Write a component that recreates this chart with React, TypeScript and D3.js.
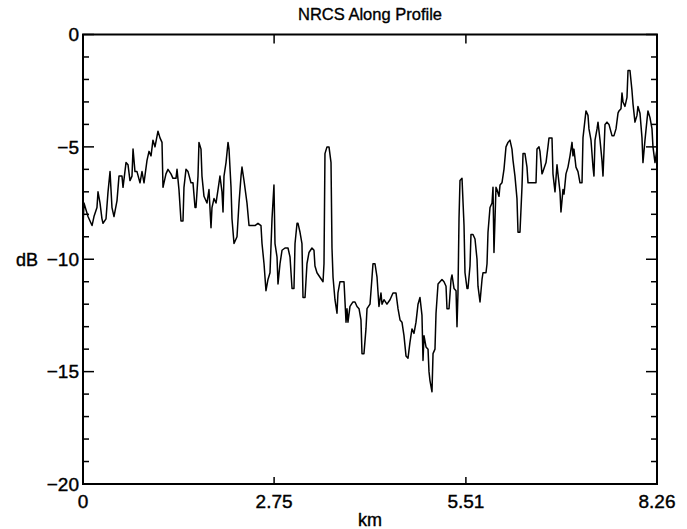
import React, { useRef, useEffect } from "react";
import * as d3 from "d3";

// distance along profile (km) and NRCS (dB)
const distanceKm = [
  0.000, 0.014, 0.043, 0.072, 0.130, 0.158, 0.201, 0.216, 0.245, 0.273, 0.288, 0.331, 0.360, 0.389, 0.417, 0.446,
  0.489, 0.518, 0.561, 0.576, 0.619, 0.648, 0.676, 0.705, 0.720, 0.748, 0.777, 0.820, 0.849, 0.878, 0.921, 0.950,
  0.979, 1.007, 1.036, 1.079, 1.108, 1.137, 1.151, 1.194, 1.223, 1.266, 1.295, 1.338, 1.353, 1.381, 1.410, 1.439,
  1.453, 1.482, 1.511, 1.554, 1.583, 1.612, 1.626, 1.655, 1.669, 1.698, 1.712, 1.741, 1.784, 1.813, 1.842, 1.856,
  1.885, 1.914, 1.943, 1.971, 2.000, 2.015, 2.029, 2.058, 2.087, 2.101, 2.130, 2.144, 2.173, 2.202, 2.216, 2.245,
  2.274, 2.288, 2.317, 2.360, 2.389, 2.432, 2.475, 2.518, 2.561, 2.576, 2.605, 2.633, 2.662, 2.691, 2.720, 2.748,
  2.763, 2.792, 2.806, 2.835, 2.864, 2.907, 2.950, 2.979, 3.008, 3.036, 3.051, 3.080, 3.094, 3.123, 3.151, 3.166,
  3.195, 3.223, 3.252, 3.295, 3.324, 3.338, 3.367, 3.410, 3.454, 3.468, 3.482, 3.511, 3.540, 3.569, 3.583, 3.598,
  3.626, 3.655, 3.669, 3.698, 3.727, 3.756, 3.785, 3.799, 3.813, 3.842, 3.885, 3.914, 3.943, 3.972, 4.000, 4.015,
  4.043, 4.072, 4.087, 4.130, 4.159, 4.173, 4.202, 4.231, 4.259, 4.288, 4.303, 4.331, 4.374, 4.418, 4.461, 4.504,
  4.533, 4.562, 4.590, 4.619, 4.648, 4.677, 4.705, 4.734, 4.763, 4.792, 4.821, 4.849, 4.878, 4.893, 4.907, 4.936,
  4.965, 4.979, 4.993, 5.022, 5.037, 5.065, 5.080, 5.109, 5.137, 5.166, 5.195, 5.224, 5.238, 5.267, 5.296, 5.310,
  5.339, 5.368, 5.382, 5.396, 5.411, 5.425, 5.454, 5.483, 5.497, 5.526, 5.540, 5.569, 5.583, 5.612, 5.641, 5.670,
  5.684, 5.713, 5.742, 5.756, 5.799, 5.814, 5.828, 5.857, 5.886, 5.900, 5.914, 5.943, 5.957, 5.986, 6.001, 6.029,
  6.058, 6.087, 6.116, 6.144, 6.173, 6.188, 6.216, 6.245, 6.260, 6.288, 6.317, 6.332, 6.360, 6.389, 6.404, 6.447,
  6.476, 6.519, 6.533, 6.562, 6.576, 6.605, 6.619, 6.663, 6.691, 6.706, 6.749, 6.763, 6.792, 6.821, 6.835, 6.864,
  6.878, 6.907, 6.922, 6.950, 6.979, 7.008, 7.037, 7.051, 7.065, 7.094, 7.123, 7.152, 7.181, 7.195, 7.238, 7.267,
  7.281, 7.310, 7.339, 7.353, 7.368, 7.397, 7.411, 7.440, 7.468, 7.483, 7.512, 7.540, 7.569, 7.612, 7.641, 7.670,
  7.699, 7.713, 7.742, 7.756, 7.771, 7.799, 7.828, 7.843, 7.871, 7.900, 7.915, 7.943, 7.972, 7.986, 8.015, 8.044,
  8.058, 8.087, 8.116, 8.130, 8.159, 8.188, 8.202, 8.231, 8.260,
];

const nrcsDb = [
  -8.6, -7.5, -7.8, -8.1, -8.5, -8.1, -7.7, -7.0, -7.5, -8.2, -8.4, -8.2, -7.0, -6.1, -7.7, -8.1,
  -7.4, -6.3, -6.3, -6.8, -5.7, -5.8, -6.5, -6.3, -5.1, -6.1, -6.1, -6.6, -6.1, -6.6, -5.6, -5.2,
  -5.4, -4.7, -5.0, -4.3, -4.6, -4.8, -6.8, -6.2, -6.0, -6.2, -6.4, -6.4, -6.0, -6.9, -8.3, -8.3,
  -6.8, -6.0, -6.1, -6.6, -6.6, -7.7, -7.7, -6.3, -4.8, -5.1, -6.3, -7.2, -7.5, -6.9, -8.6, -7.7,
  -7.3, -7.5, -6.9, -6.3, -7.0, -7.9, -6.3, -5.7, -4.8, -5.1, -6.8, -8.2, -9.3, -9.1, -9.0, -7.5,
  -6.3, -5.9, -6.5, -7.5, -8.5, -8.5, -8.5, -8.4, -8.5, -9.3, -10.2, -11.4, -10.9, -10.6, -8.2, -6.7,
  -9.3, -9.9, -11.1, -10.2, -9.6, -9.5, -9.5, -9.9, -11.3, -11.3, -9.3, -8.4, -8.4, -8.8, -9.3, -11.7,
  -11.7, -10.2, -9.7, -9.5, -9.6, -10.3, -10.6, -10.8, -11.0, -10.2, -5.3, -5.0, -5.0, -5.7, -9.5, -10.8,
  -11.8, -12.4, -11.5, -11.0, -11.0, -11.0, -12.8, -12.2, -12.8, -12.1, -11.9, -11.9, -12.1, -12.2, -12.7, -14.2,
  -14.2, -13.1, -12.2, -12.0, -10.8, -10.2, -10.2, -10.8, -12.1, -11.5, -12.0, -11.8, -12.0, -11.8, -11.5, -11.5,
  -12.2, -12.7, -12.8, -13.4, -14.3, -14.4, -13.7, -13.1, -13.3, -12.8, -12.0, -11.7, -12.5, -14.5, -13.4, -13.9,
  -14.0, -15.0, -15.4, -15.9, -14.2, -14.0, -12.4, -11.1, -11.0, -10.9, -11.0, -11.2, -12.2, -12.2, -10.9, -10.7,
  -11.3, -11.4, -13.0, -11.5, -8.2, -6.5, -6.4, -8.5, -10.6, -11.3, -11.3, -10.3, -8.9, -8.9, -9.1, -10.0,
  -11.2, -11.9, -10.9, -10.6, -10.6, -10.2, -8.8, -7.7, -7.5, -6.8, -9.7, -6.8, -6.9, -7.2, -6.7, -6.6,
  -6.0, -5.0, -4.8, -4.7, -5.1, -5.6, -6.3, -7.3, -8.8, -8.8, -6.8, -5.3, -5.3, -5.9, -6.6, -6.6,
  -6.6, -6.6, -5.1, -5.0, -5.2, -6.2, -6.1, -5.7, -5.0, -4.6, -4.6, -6.2, -7.0, -5.8, -6.2, -7.0,
  -7.9, -6.9, -7.1, -6.2, -5.9, -5.4, -4.8, -5.4, -5.1, -5.9, -6.1, -6.6, -6.6, -4.6, -3.4, -3.6,
  -4.2, -4.7, -5.9, -6.3, -4.7, -4.2, -3.9, -4.7, -5.6, -6.3, -4.0, -3.9, -4.0, -4.5, -4.5, -4.2,
  -3.5, -3.4, -3.3, -2.6, -3.0, -3.2, -2.8, -1.6, -1.6, -2.5, -3.1, -3.9, -3.6, -3.2, -3.5, -4.6,
  -5.7, -4.7, -3.8, -3.4, -3.7, -4.2, -5.0, -5.7, -5.1,
];

const xTickValues = [0, 2.75, 5.51, 8.26];
const xTickLabels = ["0", "2.75", "5.51", "8.26"];
const yMajorTicks = [0, -5, -10, -15, -20];
const yTickLabels = ["0", "\u22125", "\u221210", "\u221215", "\u221220"];

const title = "NRCS Along Profile";
const xLabel = "km";
const yLabel = "dB";

const FONT = "'Liberation Sans', Arial, sans-serif";

const App = () => {
  const svgRef = useRef<SVGSVGElement>(null);

  useEffect(() => {
    const width = 687;
    const height = 529;
    const left = 83, right = 657, top = 34.5, bottom = 484;

    const svg = d3.select(svgRef.current)
      .attr("width", width)
      .attr("height", height);
    svg.selectAll("*").remove();

    const xScale = d3.scaleLinear().domain([0, 8.26]).range([left, right]);
    const yScale = d3.scaleLinear().domain([-20, 0]).range([bottom, top]);

    // title
    svg.append("text")
      .attr("x", (left + right) / 2)
      .attr("y", 20)
      .attr("text-anchor", "middle")
      .attr("font-family", FONT)
      .attr("font-size", 16.5)
      .attr("stroke", "#000")
      .attr("stroke-width", 0.35)
      .text(title);

    // minor y ticks every dB, on both sides, pointing in
    const minorY = d3.range(-19, 0).filter(v => v % 5 !== 0);
    const tickGroup = svg.append("g").attr("stroke", "#000").attr("stroke-width", 1.5);
    minorY.forEach(v => {
      tickGroup.append("line").attr("x1", left).attr("x2", left + 6).attr("y1", yScale(v)).attr("y2", yScale(v));
      tickGroup.append("line").attr("x1", right).attr("x2", right - 6).attr("y1", yScale(v)).attr("y2", yScale(v));
    });
    yMajorTicks.forEach(v => {
      tickGroup.append("line").attr("x1", left).attr("x2", left + 11).attr("y1", yScale(v)).attr("y2", yScale(v));
      tickGroup.append("line").attr("x1", right).attr("x2", right - 11).attr("y1", yScale(v)).attr("y2", yScale(v));
    });
    xTickValues.forEach(v => {
      tickGroup.append("line").attr("x1", xScale(v)).attr("x2", xScale(v)).attr("y1", bottom).attr("y2", bottom - 7);
      tickGroup.append("line").attr("x1", xScale(v)).attr("x2", xScale(v)).attr("y1", top).attr("y2", top + 9);
    });

    // data line
    const line = d3.line<number>()
      .x((d, i) => xScale(distanceKm[i]))
      .y(d => yScale(d));
    svg.append("path")
      .datum(nrcsDb)
      .attr("fill", "none")
      .attr("stroke", "#000")
      .attr("stroke-width", 1.5)
      .attr("stroke-linejoin", "round")
      .attr("d", line);

    // frame
    svg.append("rect")
      .attr("x", left).attr("y", top)
      .attr("width", right - left).attr("height", bottom - top)
      .attr("fill", "none").attr("stroke", "#000").attr("stroke-width", 2);

    const labelStyle = (sel: any, size: number) => sel
      .attr("font-family", FONT)
      .attr("font-size", size)
      .attr("stroke", "#000")
      .attr("stroke-width", 0.4);

    // y labels
    svg.append("g").selectAll("text")
      .data(yMajorTicks)
      .enter()
      .append("text")
      .attr("x", left - 4)
      .attr("y", d => yScale(d))
      .attr("dy", "0.36em")
      .attr("text-anchor", "end")
      .call(labelStyle, 19)
      .text((d, i) => yTickLabels[i]);

    // x labels
    svg.append("g").selectAll("text")
      .data(xTickValues)
      .enter()
      .append("text")
      .attr("x", d => xScale(d))
      .attr("y", bottom + 24)
      .attr("text-anchor", "middle")
      .call(labelStyle, 19)
      .text((d, i) => xTickLabels[i]);

    svg.append("text")
      .attr("x", (left + right) / 2)
      .attr("y", 526)
      .attr("text-anchor", "middle")
      .call(labelStyle, 18)
      .text(xLabel);

    svg.append("text")
      .attr("x", 38)
      .attr("y", yScale(-10))
      .attr("dy", "0.36em")
      .attr("text-anchor", "end")
      .call(labelStyle, 18)
      .text(yLabel);
  }, []);

  return (
    <svg ref={svgRef} style={{ position: "absolute", left: 0, top: 0, background: "#fff" }}></svg>
  );
};

export default App;
